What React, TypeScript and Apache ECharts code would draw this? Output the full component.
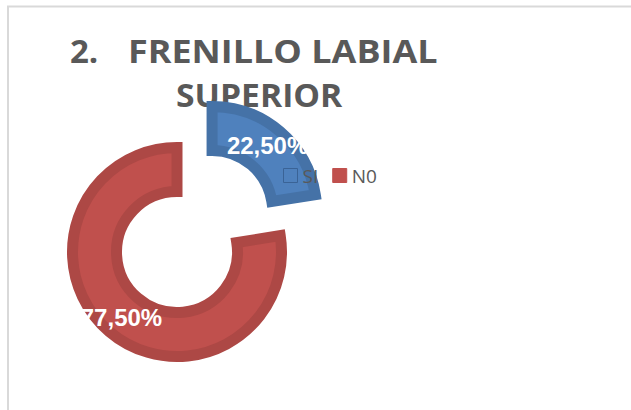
import React, { useEffect, useRef } from "react";
import * as echarts from "echarts";

const categories = ["SI", "N0"];
const values = [22.5, 77.5];
const fillColors = ["#4f81bd", "#c0504d"];
const bandColors = ["#4572a7", "#ad4845"];
const legendBorders = ["#3a6396", "#c0504d"];
const titleLine1Number = "2.";
const titleLine1 = "FRENILLO LABIAL";
const titleLine2 = "SUPERIOR";

export default function App() {
  const ref = useRef<HTMLDivElement>(null);
  useEffect(() => {
    if (!ref.current) return;
    const chart = echarts.init(ref.current, undefined, { renderer: "svg" });
    const data = categories.map((name, i) => ({
      name,
      value: values[i],
      selected: i === 0,
      itemStyle: { color: fillColors[i], borderColor: bandColors[i] },
    }));
    chart.setOption({
      animation: false,
      backgroundColor: "#ffffff",
      graphic: [
        {
          type: "polyline",
          shape: { points: [[8, 420], [8, 6.5], [640, 6.5]] },
          style: { stroke: "#d9d9d9", lineWidth: 2, fill: null },
          z: 0,
        },
        {
          type: "text",
          x: 70,
          y: 50,
          style: {
            text: titleLine1Number,
            font: "bold 33px 'Open Sans'",
            fill: "#595959",
            verticalAlign: "middle",
          },
        },
        {
          type: "text",
          x: 128,
          y: 50,
          scaleX: 1.09,
          style: {
            text: titleLine1,
            font: "bold 33px 'Open Sans'",
            fill: "#595959",
            verticalAlign: "middle",
          },
        },
        {
          type: "text",
          x: 176,
          y: 94,
          scaleX: 1.02,
          style: {
            text: titleLine2,
            font: "bold 33px 'Open Sans'",
            fill: "#595959",
            verticalAlign: "middle",
          },
        },
      ],
      legend: {
        left: 283,
        top: 166,
        padding: 0,
        icon: "rect",
        itemWidth: 14,
        itemHeight: 14,
        itemGap: 14,
        selectedMode: false,
        data: categories.map((name, i) => ({
          name,
          itemStyle: { color: fillColors[i], borderColor: legendBorders[i], borderWidth: 1 },
        })),
        textStyle: { color: "#595959", fontSize: 19, fontFamily: "'Open Sans'" },
        z: 5,
      },
      series: [
        {
          type: "pie",
          center: [177, 252],
          radius: [60.5, 104.5],
          startAngle: 90,
          clockwise: true,
          selectedMode: "single",
          selectedOffset: 54,
          avoidLabelOverlap: false,
          emphasis: { disabled: true },
          itemStyle: { borderWidth: 11, borderJoin: "miter" },
          label: {
            show: true,
            position: "inside",
            color: "#ffffff",
            fontSize: 24,
            fontWeight: "bold",
            fontFamily: "'Liberation Sans', Arial",
            formatter: (p: any) => p.value.toFixed(2).replace(".", ",") + "%",
          },
          labelLine: { show: false },
          data,
          z: 2,
        },
      ],
    });
    return () => chart.dispose();
  }, []);
  return (
    <div
      ref={ref}
      style={{ position: "fixed", left: 0, top: 0, width: 631, height: 410 }}
    />
  );
}
